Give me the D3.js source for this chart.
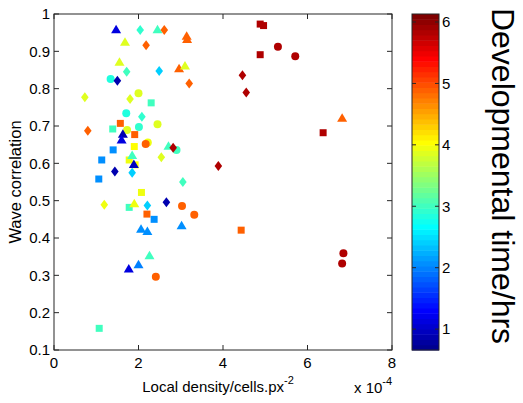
<!DOCTYPE html>
<html><head><meta charset="utf-8">
<script src="https://cdn.jsdelivr.net/npm/d3@7/dist/d3.min.js"></script>
<style>body{margin:0;background:#fff;}svg{display:block;font-family:"Liberation Sans",Arial,sans-serif;}</style>
</head><body><div id="chart"></div>
<script>
// Data (density in units of 1e-4 cells/px^2)
const density = [1.47,2.04,2.45,2.61,3.14,3.15,1.68,2.18,1.55,1.72,2.49,2.96,3.10,3.20,1.34,1.50,0.73,1.80,2.00,2.30,
 1.71,2.08,2.45,2.01,1.57,1.39,0.80,1.73,1.63,1.60,1.91,1.90,2.22,2.17,2.71,2.82,2.90,1.40,1.13,1.85,
 1.78,1.89,1.92,2.54,3.89,1.44,1.85,1.06,3.05,2.07,1.19,1.78,1.90,2.21,2.66,3.03,3.32,2.20,2.37,2.06,
 2.21,3.02,2.26,1.77,2.00,2.41,1.07,4.88,4.96,5.30,4.88,5.71,4.46,4.55,6.82,6.37,4.43,6.85,6.82];
const correlation = [0.959,0.957,0.959,0.957,0.942,0.933,0.926,0.916,0.872,0.845,0.847,0.855,0.862,0.814,0.826,0.821,0.777,0.772,0.788,0.762,
 0.734,0.725,0.705,0.697,0.707,0.692,0.687,0.689,0.679,0.664,0.677,0.645,0.656,0.652,0.647,0.642,0.636,0.636,0.609,0.622,
 0.609,0.598,0.596,0.616,0.593,0.578,0.575,0.558,0.550,0.522,0.489,0.482,0.493,0.487,0.496,0.486,0.462,0.464,0.450,0.425,
 0.419,0.434,0.354,0.318,0.330,0.296,0.158,0.973,0.969,0.912,0.891,0.887,0.836,0.790,0.722,0.682,0.421,0.359,0.332];
const devTime = [1.1,2.95,3.0,4.85,4.85,4.85,3.9,4.85,3.85,3.0,2.4,4.85,3.85,4.85,2.8,0.85,3.9,3.9,3.85,3.0,
 2.85,2.95,3.85,2.9,4.85,3.0,4.85,3.9,0.85,1.1,4.85,4.0,3.95,4.85,3.0,5.85,3.0,2.05,2.05,3.0,
 3.95,1.0,4.0,3.85,5.85,0.85,2.4,2.05,3.0,3.95,3.95,3.0,3.95,2.45,0.85,4.85,4.85,4.85,2.05,2.05,
 2.05,2.05,3.0,1.1,2.0,4.85,3.0,5.85,5.85,5.85,5.85,5.85,5.85,5.85,4.85,5.85,4.85,5.85,5.85];
const marker = ["tri","dia","tri","dia","tri","tri","tri","dia","tri","dia","dia","tri","tri","dia","circ","dia","dia","dia","circ","sq",
 "circ","dia","circ","circ","sq","sq","dia","circ","tri","tri","sq","sq","circ","circ","tri","dia","circ","sq","sq","tri",
 "sq","tri","sq","dia","dia","dia","dia","sq","dia","sq","dia","sq","tri","dia","dia","circ","circ","sq","sq","tri",
 "tri","tri","tri","tri","tri","circ","sq","sq","sq","circ","sq","circ","dia","dia","tri","sq","sq","circ","circ"];
const xTicks = [0,2,4,6,8];
const yTicks = [0.1,0.2,0.3,0.4,0.5,0.6,0.7,0.8,0.9,1];
const cTicks = [1,2,3,4,5,6];
const cLimits = [0.66,6.13];

// MATLAB jet(64)
function jet64(){
  const u=[];
  for(let k=1;k<=16;k++)u.push(k/16);
  for(let k=0;k<15;k++)u.push(1);
  for(let k=16;k>=1;k--)u.push(k/16);
  const rows=[];
  for(let i=1;i<=64;i++){
    const r=u[i-25]??0, g=u[i-9]??0, b=u[i+7]??0;
    rows.push(d3.rgb(Math.round(r*255),Math.round(g*255),Math.round(b*255)).toString());
  }
  return rows;
}
const cmap = jet64();
const cIndex = d3.scaleQuantize().domain(cLimits).range(d3.range(64));
const color = v => cmap[cIndex(Math.max(cLimits[0],Math.min(cLimits[1]-1e-9,v)))];

const W=523,H=403;
const L=54,R=392,T=14,B=350;
const x=d3.scaleLinear().domain([0,8]).range([L,R]);
const y=d3.scaleLinear().domain([0.1,1]).range([B,T]);
const svg=d3.select("#chart").append("svg").attr("width",W).attr("height",H);

const points=density.map((d,i)=>({x:d,y:correlation[i],t:devTime[i],m:marker[i]}));
const order={circ:0,sq:1,tri:2,dia:3};
points.sort((a,b)=>order[a.m]-order[b.m]);
function shape(m,cx,cy){
  if(m==="circ"){const r=4;return `M${cx-r},${cy}a${r},${r} 0 1,0 ${2*r},0a${r},${r} 0 1,0 ${-2*r},0Z`;}
  if(m==="sq"){const s=3.5;return `M${cx-s},${cy-s}h${2*s}v${2*s}h${-2*s}Z`;}
  if(m==="tri"){return `M${cx},${cy-4.5}L${cx+5},${cy+4}L${cx-5},${cy+4}Z`;}
  return `M${cx},${cy-5}L${cx+3.8},${cy}L${cx},${cy+5}L${cx-3.8},${cy}Z`;
}
svg.append("g").selectAll("path").data(points).join("path")
  .attr("d",d=>shape(d.m,x(d.x),y(d.y)))
  .attr("fill",d=>color(d.t));

// frame and ticks
const axisColor="#262626";
const tl=5;
const g=svg.append("g").attr("stroke",axisColor).attr("stroke-width",1).attr("fill","none");
g.append("rect").attr("x",L).attr("y",T).attr("width",R-L).attr("height",B-T);
xTicks.forEach(v=>{
  g.append("line").attr("x1",x(v)).attr("x2",x(v)).attr("y1",B).attr("y2",B-tl);
  g.append("line").attr("x1",x(v)).attr("x2",x(v)).attr("y1",T).attr("y2",T+tl);
});
yTicks.forEach(v=>{
  g.append("line").attr("x1",L).attr("x2",L+tl).attr("y1",y(v)).attr("y2",y(v));
  g.append("line").attr("x1",R).attr("x2",R-tl).attr("y1",y(v)).attr("y2",y(v));
});
const fs=15;
svg.append("g").selectAll("text").data(xTicks).join("text")
  .attr("x",d=>x(d)).attr("y",B+18).attr("text-anchor","middle").attr("font-size",fs).attr("fill","#000").text(d=>d);
svg.append("g").selectAll("text").data(yTicks).join("text")
  .attr("x",L-4).attr("y",d=>y(d)).attr("dy","0.35em").attr("text-anchor","end").attr("font-size",fs).attr("fill","#000").text(d=>d);

// axis labels
const xl=svg.append("text").attr("x",218).attr("y",392).attr("text-anchor","middle").attr("font-size",fs).attr("fill","#000");
xl.append("tspan").text("Local density/cells.px");
xl.append("tspan").attr("dy",-8).attr("font-size",11).text("-2");
const ex=svg.append("text").attr("x",354).attr("y",393).attr("font-size",fs).attr("fill","#000");
ex.append("tspan").text("x 10");
ex.append("tspan").attr("dy",-8).attr("font-size",11).text("-4");
svg.append("text").attr("transform","translate(21,182) rotate(-90)").attr("text-anchor","middle")
  .attr("font-size",16.5).attr("fill","#000").text("Wave correlation");

// colorbar
const cbL=412,cbR=439;
const cy=d3.scaleLinear().domain(cLimits).range([B,T]);
const bands=d3.range(64);
const step=(cLimits[1]-cLimits[0])/64;
svg.append("g").selectAll("rect").data(bands).join("rect")
  .attr("x",cbL).attr("width",cbR-cbL)
  .attr("y",i=>cy(cLimits[0]+(i+1)*step)).attr("height",i=>cy(cLimits[0]+i*step)-cy(cLimits[0]+(i+1)*step)+0.5)
  .attr("fill",i=>cmap[i]);
const cg=svg.append("g").attr("stroke",axisColor).attr("fill","none");
cg.append("rect").attr("x",cbL).attr("y",T).attr("width",cbR-cbL).attr("height",B-T);
cTicks.forEach(v=>{
  cg.append("line").attr("x1",cbL).attr("x2",cbL+4).attr("y1",cy(v)).attr("y2",cy(v));
  cg.append("line").attr("x1",cbR).attr("x2",cbR-4).attr("y1",cy(v)).attr("y2",cy(v));
});
svg.append("g").selectAll("text").data(cTicks).join("text")
  .attr("x",cbR+3).attr("y",d=>cy(d)).attr("dy","0.35em").attr("font-size",fs).attr("fill","#000").text(d=>d);
svg.append("text").attr("transform","translate(492,176) rotate(90)").attr("text-anchor","middle")
  .attr("font-size",32).attr("fill","#000").text("Developmental time/hrs");
</script></body></html>
